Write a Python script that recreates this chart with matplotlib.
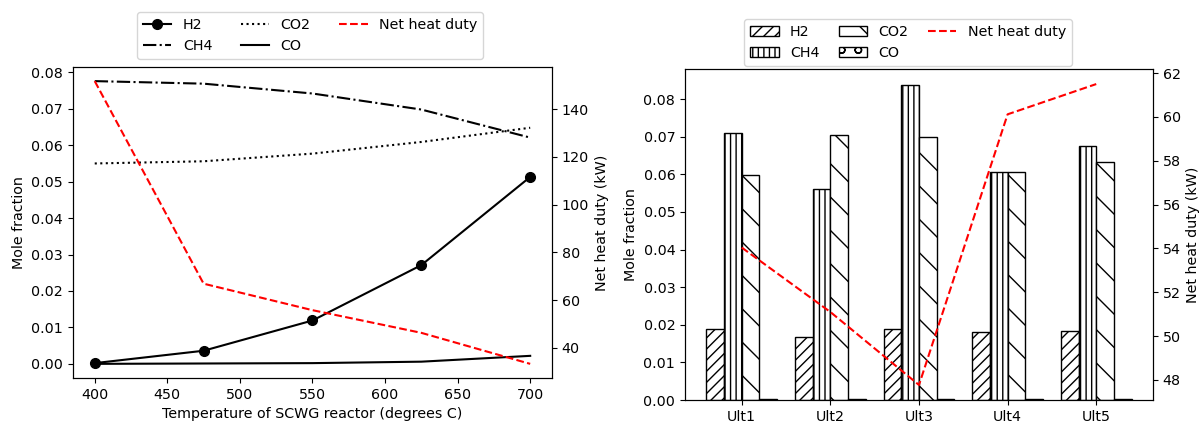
import numpy as np
import matplotlib
matplotlib.use('Agg')
import matplotlib.pyplot as plt

plt.rcParams['font.size'] = 10.25

# left panel: temperature sweep
temps = [400, 475, 550, 625, 700]
h2 = [0.0002, 0.0036, 0.0119, 0.0271, 0.0513]
ch4 = [0.0776, 0.0769, 0.0742, 0.0698, 0.0621]
co2 = [0.0550, 0.0556, 0.0577, 0.0609, 0.0648]
co = [0.0000, 0.0001, 0.0002, 0.0006, 0.0022]
duty_t = [151.8, 66.9, 55.8, 46.3, 33.3]

# right panel: ultimate analyses
cases = ['Ult1', 'Ult2', 'Ult3', 'Ult4', 'Ult5']
h2_u = [0.0188, 0.0168, 0.0188, 0.0180, 0.0183]
ch4_u = [0.0711, 0.0561, 0.0838, 0.0607, 0.0676]
co2_u = [0.0597, 0.0705, 0.0698, 0.0606, 0.0632]
co_u = [0.0003, 0.0003, 0.0003, 0.0003, 0.0003]
duty_u = [54.04, 51.1, 47.77, 60.12, 61.5]

fig = plt.figure(figsize=(12.02, 4.25), dpi=100)

ax1 = fig.add_axes([0.0607, 0.1106, 0.3985, 0.7318])
l1, = ax1.plot(temps, h2, 'k-o', markersize=7, label='H2')
l2, = ax1.plot(temps, ch4, 'k-.', label='CH4')
l3, = ax1.plot(temps, co2, 'k:', label='CO2')
l4, = ax1.plot(temps, co, 'k-', label='CO')
ax1.set_xlabel('Temperature of SCWG reactor (degrees C)')
ax1.set_ylabel('Mole fraction')
ax1b = ax1.twinx()
l5, = ax1b.plot(temps, duty_t, 'r--', label='Net heat duty')
ax1b.set_ylabel('Net heat duty (kW)')
fig.legend(handles=[l1, l2, l3, l4, l5], ncol=3, loc='upper center',
           bbox_to_anchor=(0.258, 0.988))

ax2 = fig.add_axes([0.5699, 0.0588, 0.3893, 0.7788])
x = np.arange(len(cases))
w = 0.2
b1 = ax2.bar(x - 1.5 * w, h2_u, w, color='white', edgecolor='black', hatch='///', label='H2')
b2 = ax2.bar(x - 0.5 * w, ch4_u, w, color='white', edgecolor='black', hatch='|||', label='CH4')
b3 = ax2.bar(x + 0.5 * w, co2_u, w, color='white', edgecolor='black', hatch='\\', label='CO2')
b4 = ax2.bar(x + 1.5 * w, co_u, w, color='white', edgecolor='black', hatch='o', label='CO')
ax2.set_xticks(x)
ax2.set_xticklabels(cases)
ax2.set_ylabel('Mole fraction')
ax2b = ax2.twinx()
l6, = ax2b.plot(x, duty_u, 'r--', label='Net heat duty')
ax2b.set_ylabel('Net heat duty (kW)')
fig.legend(handles=[b1, b2, b3, b4, l6], ncol=3, loc='upper center',
           bbox_to_anchor=(0.7554, 0.972), columnspacing=1.35)

fig.savefig('out.png', dpi=100)
